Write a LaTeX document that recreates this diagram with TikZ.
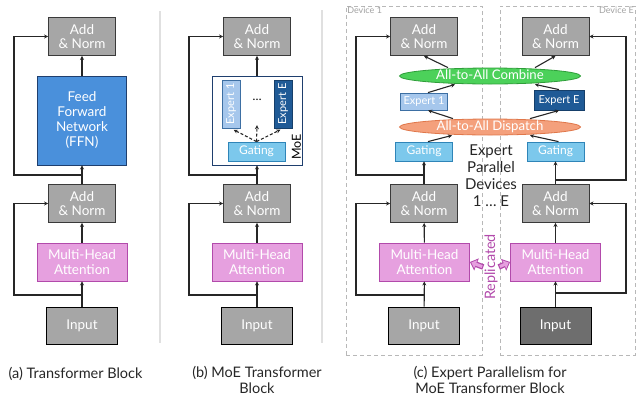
\documentclass[tikz,border=0pt]{standalone}
\usepackage{fontspec}
\setmainfont{Lato}
\usepackage{tikz}
\usetikzlibrary{shapes.geometric, arrows.meta, positioning, calc}

\definecolor{normgray}{HTML}{A6A6A6}
\definecolor{edgegray}{HTML}{3A3A3A}
\definecolor{inputdark}{HTML}{6E6E6E}
\definecolor{ffnfill}{HTML}{4A90DB}
\definecolor{ffnedge}{HTML}{1F3F6E}
\definecolor{mhafill}{HTML}{E6A0DF}
\definecolor{mhaedge}{HTML}{B24AAB}
\definecolor{expertlight}{HTML}{A6C7EC}
\definecolor{expertedge}{HTML}{3D6FA3}
\definecolor{expertdark}{HTML}{1F5A96}
\definecolor{expertdarkedge}{HTML}{163F6A}
\definecolor{gatefill}{HTML}{7CC8EC}
\definecolor{gateedge}{HTML}{2F85B8}
\definecolor{combinefill}{HTML}{4CD15A}
\definecolor{combineedge}{HTML}{2F9E3A}
\definecolor{dispatchfill}{HTML}{F4A07C}
\definecolor{dispatchedge}{HTML}{E0774A}
\definecolor{devicegray}{HTML}{B8B8B8}
\definecolor{devicetext}{HTML}{A2A2A2}

\begin{document}
\begin{tikzpicture}[
      x=1pt, y=-1pt,
      % Styles
      norm/.style={
        rectangle, draw=edgegray, fill=normgray, line width=0.9pt,
        minimum width=67pt, minimum height=38pt, inner sep=1pt,
        align=center, text=white, font=\fontsize{13.5}{14.5}\selectfont
      },
      input/.style={
        norm, draw=black, minimum width=71pt, minimum height=37pt
      },
      mha/.style={
        norm, draw=mhaedge, fill=mhafill, minimum width=90pt
      },
      ffn/.style={
        norm, draw=ffnedge, fill=ffnfill,
        minimum width=89pt, minimum height=89pt,
        font=\fontsize{13.5}{15}\selectfont
      },
      moe_box/.style={
        rectangle, draw=ffnedge, fill=white, line width=0.9pt,
        minimum width=90pt, minimum height=89pt
      },
      expert_light/.style={
        rectangle, draw=expertedge, fill=expertlight, line width=0.8pt,
        minimum width=48pt, minimum height=18pt, inner sep=1pt,
        text=white, font=\fontsize{11}{12}\selectfont
      },
      expert_dark/.style={
        expert_light, draw=expertdarkedge, fill=expertdark
      },
      gating/.style={
        expert_light, draw=gateedge, fill=gatefill,
        minimum width=57pt, minimum height=19pt,
        font=\fontsize{12}{12}\selectfont
      },
      combine/.style={
        ellipse, draw=combineedge, fill=combinefill, line width=0.8pt,
        minimum width=181pt, minimum height=16pt, inner sep=0pt,
        text height=8pt, text depth=1pt,
        text=white, font=\fontsize{13.2}{13}\selectfont
      },
      dispatch/.style={
        combine, draw=dispatchedge, fill=dispatchfill
      },
      device_box/.style={
        rectangle, draw=devicegray, line width=0.9pt, dash pattern=on 4pt off 3pt
      },
      device_label/.style={
        text=devicetext, inner sep=1.5pt, font=\fontsize{9}{9}\selectfont
      },
      main_arrow/.style={
        -{Stealth[length=4pt, width=4pt]}, line width=1.1pt, draw=black!85
      },
      gate_arrow/.style={
        main_arrow, dash pattern=on 3pt off 2pt
      },
      repl_arrow/.style={
        draw=mhaedge, line width=5.6pt, -{Triangle[length=7pt, width=12.5pt]},
        postaction={draw=mhafill, line width=3pt, shorten <=1.2pt, shorten >=1.4pt,
          -{Triangle[length=4.8pt, width=8.6pt]}}
      },
      repl_text/.style={
        text=mhaedge, inner sep=1pt, font=\fontsize{14.4}{15}\selectfont
      },
      ep_text/.style={
        align=center, text=black!85, font=\fontsize{15}{17}\selectfont
      },
      caption/.style={
        align=center, text=black!85, font=\fontsize{14.5}{16}\selectfont
      },
      sep_line/.style={
        draw=black!12, line width=1.8pt
      }
    ]
    \useasboundingbox (0,0) rectangle (636,397);

    % --- 1. NODES ---

    % (a) Transformer block
    \node[norm] (a_norm_top) at (82,36.5) {Add\\\& Norm};
    \node[ffn] (a_ffn) at (82,120.5) {Feed\\Forward\\Network\\(FFN)};
    \node[norm] (a_norm_low) at (82,203.5) {Add\\\& Norm};
    \node[mha] (a_mha) at (82,262) {Multi-Head\\Attention};
    \node[input] (a_input) at (82,325.5) {Input};
    \coordinate (a_split_top) at (82,175);
    \coordinate (a_split_low) at (82,295);

    % (b) MoE transformer block
    \node[norm] (b_norm_top) at (257,36.5) {Add\\\& Norm};
    \node[moe_box] (b_moe) at (257,120.5) {};
    \node[expert_light, rotate=90] (b_expert1) at (231,104) {Expert 1};
    \node[expert_dark, rotate=90] (b_expertE) at (283,104) {Expert E};
    \node[minimum height=50pt, font=\fontsize{12}{12}\selectfont] (b_dots) at (257,100) {…};
    \node[gating] (b_gating) at (256.5,151.5) {Gating};
    \node[rotate=90, inner sep=1pt, font=\fontsize{12.5}{12}\selectfont] (b_moe_label) at (296.5,147) {MoE};
    \node[norm] (b_norm_low) at (257,203.5) {Add\\\& Norm};
    \node[mha] (b_mha) at (257,262) {Multi-Head\\Attention};
    \node[input] (b_input) at (257,325.5) {Input};
    \coordinate (b_split_top) at (257,175);
    \coordinate (b_split_low) at (257,295);

    % (c) Expert parallelism: device frames
    \node[device_box, minimum width=136pt, minimum height=349pt] (device1) at (414,180.5) {};
    \node[device_label, anchor=north west] (device1_label) at (device1.north west) {Device 1};
    \node[device_box, minimum width=135pt, minimum height=349pt] (deviceE) at (567.5,180.5) {};
    \node[device_label, anchor=north east] (deviceE_label) at (deviceE.north east) {Device E};

    % Device 1
    \node[norm] (c1_norm_top) at (424,36.5) {Add\\\& Norm};
    \node[expert_light, minimum width=47pt, minimum height=17pt] (c1_expert) at (424,101.5) {Expert 1};
    \node[gating] (c1_gating) at (424,151.5) {Gating};
    \node[norm] (c1_norm_low) at (424,203.5) {Add\\\& Norm};
    \node[mha] (c1_mha) at (424.5,262) {Multi-Head\\Attention};
    \node[input] (c1_input) at (424,325.5) {Input};
    \coordinate (c1_split_top) at (424,175);
    \coordinate (c1_split_low) at (424,295);

    % Device E
    \node[norm] (cE_norm_top) at (555.5,36.5) {Add\\\& Norm};
    \node[expert_dark, minimum width=50pt, minimum height=20pt] (cE_expert) at (559,100) {Expert E};
    \node[gating] (cE_gating) at (555.5,151.5) {Gating};
    \node[norm] (cE_norm_low) at (555.5,203.5) {Add\\\& Norm};
    \node[mha] (cE_mha) at (555.5,262) {Multi-Head\\Attention};
    \node[input, fill=inputdark] (cE_input) at (555.5,325.5) {Input};
    \coordinate (cE_split_top) at (555.5,180);
    \coordinate (cE_split_low) at (555.5,293);

    % All-to-all collectives (shared by both devices)
    \node[combine] (combine) at (490,76) {All-to-All Combine};
    \node[dispatch] (dispatch) at (490,127) {All-to-All Dispatch};

    \node[ep_text] (ep_label) at (491,176) {Expert\\Parallel\\Devices\\1 … E};
    \node[repl_text, rotate=90] (repl) at (491,267) {Replicated};

    % Captions
    \node[caption] (a_caption) at (75.5,374) {(a) Transformer Block};
    \node[caption] (b_caption) at (257,380) {(b) MoE Transformer\\Block};
    \node[caption] (c_caption) at (490,380) {(c) Expert Parallelism for\\MoE Transformer Block};

    % Panel separators
    \draw[sep_line] (160,11) -- (160,343);
    \draw[sep_line] (322,10) -- (322,343);

    % --- 2. EDGES ---

    % (a)
    \draw[main_arrow] (a_input) -- (a_mha);
    \draw[main_arrow] (a_mha) -- (a_norm_low);
    \draw[main_arrow] (a_norm_low) -- (a_ffn);
    \draw[main_arrow] (a_ffn) -- (a_norm_top);
    \draw[main_arrow] (a_split_low) -- ++(-68,0) |- (a_norm_low);
    \draw[main_arrow] (a_split_top) -- ++(-68,0) |- (a_norm_top);

    % (b)
    \draw[main_arrow] (b_input) -- (b_mha);
    \draw[main_arrow] (b_mha) -- (b_norm_low);
    \draw[main_arrow] (b_norm_low) -- (b_moe);
    \draw[main_arrow] (b_moe) -- (b_norm_top);
    \draw[main_arrow] (b_split_low) -- ++(-68,0) |- (b_norm_low);
    \draw[main_arrow] (b_split_top) -- ++(-68,0) |- (b_norm_top);
    % gating -> experts
    \draw[gate_arrow, shorten >=3pt] (b_gating.north) -- (b_expert1.west);
    \draw[gate_arrow] (b_gating.north) -- (b_dots.south);
    \draw[gate_arrow, shorten >=3pt] (b_gating.north) -- (b_expertE.west);

    % (c) Device 1
    \draw[main_arrow] (c1_input) -- (c1_mha);
    \draw[main_arrow] (c1_mha) -- (c1_norm_low);
    \draw[main_arrow] (c1_norm_low) -- (c1_gating);
    \draw[main_arrow] ([xshift=4pt]c1_gating.north) -- ([xshift=-38pt]dispatch.south);
    \draw[main_arrow] ([xshift=-37pt]dispatch.north) -- ([xshift=4pt]c1_expert.south);
    \draw[main_arrow] ([xshift=4pt]c1_expert.north) -- ([xshift=-35pt]combine.south);
    \draw[main_arrow] ([xshift=-42pt]combine.north) -- (c1_norm_top.south);
    \draw[main_arrow] (c1_split_low) -- ++(-68,0) |- (c1_norm_low);
    \draw[main_arrow] (c1_split_top) -- ++(-68,0) |- (c1_norm_top);

    % (c) Device E
    \draw[main_arrow] (cE_input) -- (cE_mha);
    \draw[main_arrow] (cE_mha) -- (cE_norm_low);
    \draw[main_arrow] (cE_norm_low) -- (cE_gating);
    \draw[main_arrow] ([xshift=3pt]cE_gating.north) -- ([xshift=40pt]dispatch.south);
    \draw[main_arrow] ([xshift=40pt]dispatch.north) -- (cE_expert.south);
    \draw[main_arrow] (cE_expert.north) -- ([xshift=45pt]combine.south);
    \draw[main_arrow] ([xshift=45pt]combine.north) -- (cE_norm_top.south);
    \draw[main_arrow] (cE_split_low) -- ++(70.5,0) |- (cE_norm_low);
    \draw[main_arrow] (cE_split_top) -- ++(70.5,0) |- (cE_norm_top);

    % Replicated attention
    \draw[repl_arrow] (repl.north) -- (c1_mha.east);
    \draw[repl_arrow] (repl.south) -- (cE_mha.west);

    \end{tikzpicture}
\end{document}
